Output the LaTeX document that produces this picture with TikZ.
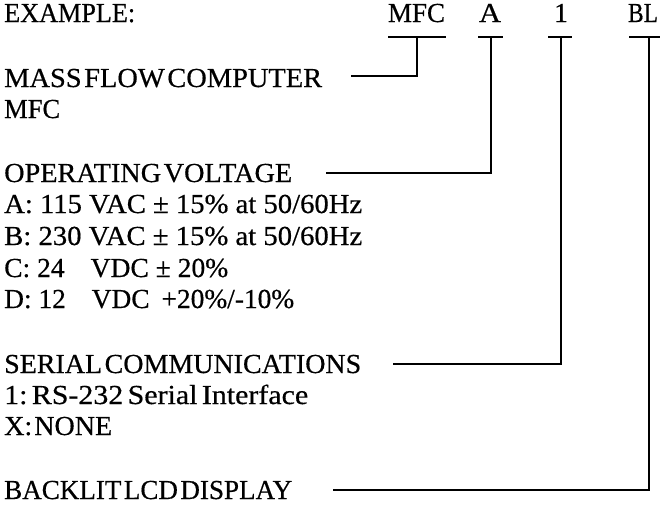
\documentclass[tikz,border=0pt]{standalone}
\usepackage{fontspec}
\usepackage{graphicx}
\setmainfont{Liberation Serif}[FakeBold=0.5]
\newcommand{\fitw}[2]{\resizebox{#1}{\height}{#2}}
\newcommand{\ts}{\hspace{2.5pt}}
\begin{document}
\begin{tikzpicture}[x=1pt,y=-1pt,
  lbl/.style={anchor=base west,inner sep=0pt,font=\fontsize{27.5}{30}\selectfont},
  toplbl/.style={anchor=base,inner sep=0pt,font=\fontsize{27.5}{30}\selectfont},
  conn/.style={line width=2.6pt,line cap=rect}]
\useasboundingbox (0,0) rectangle (664,504);
% top row
\node[lbl] (ex) at (4,22) {\fitw{131pt}{EXAMPLE:}};
\node[toplbl] (cmfc) at (416.5,22) {\fitw{57pt}{MFC}};
\node[toplbl] (ca) at (490,22) {\fitw{22pt}{A}};
\node[toplbl] (c1) at (561,22) {1};
\node[toplbl] (cbl) at (643,22) {\fitw{30pt}{BL}};
% bars
\coordinate (bm1) at (389,37); \coordinate (bm2) at (445,37);
\coordinate (ba1) at (479,37); \coordinate (ba2) at (502,37);
\coordinate (b11) at (549,37); \coordinate (b12) at (571,37);
\coordinate (bb1) at (630,37); \coordinate (bb2) at (659,37);
\draw[conn] (bm1) -- (bm2);
\draw[conn] (ba1) -- (ba2);
\draw[conn] (b11) -- (b12);
\draw[conn] (bb1) -- (bb2);
% labels
\node[lbl] (mass) at (4,87) {\fitw{318pt}{MASS\ts FLOW\ts COMPUTER}};
\node[lbl] (mfc) at (4,118) {\fitw{56pt}{MFC}};
\node[lbl] (op) at (4,182) {\fitw{288pt}{OPERATING\ts VOLTAGE}};
\node[lbl] (va) at (4,213) {\fitw{358pt}{A: 115 VAC ± 15\% at 50/60Hz}};
\node[lbl] (vb) at (4,245) {\fitw{358pt}{B: 230 VAC ± 15\% at 50/60Hz}};
\node[lbl] (vc) at (4,277) {\fitw{224pt}{C: 24\hspace{26pt}VDC ± 20\%}};
\node[lbl] (vd) at (4,308) {\fitw{290pt}{D: 12\hspace{26pt}VDC\hspace{12pt}+20\%/-10\%}};
\node[lbl] (ser) at (4,373) {\fitw{357pt}{SERIAL\ts COMMUNICATIONS}};
\node[lbl] (s1) at (4,404) {\fitw{304pt}{1:\hspace{4pt}RS-232\hspace{4pt}Serial\hspace{4pt}Interface}};
\node[lbl] (sx) at (4,435) {\fitw{108pt}{X:\hspace{2pt}NONE}};
\node[lbl] (bl) at (4,499) {\fitw{288pt}{BACKLIT\ts LCD\ts DISPLAY}};
% connector ends
\coordinate (em) at (352,76);
\coordinate (ea) at (327,173);
\coordinate (e1) at (394,364);
\coordinate (eb) at (334,490);
\draw[conn] (em) -| (417,37);
\draw[conn] (ea) -| (491,37);
\draw[conn] (e1) -| (561,37);
\draw[conn] (eb) -| (649,37);
\end{tikzpicture}
\end{document}
